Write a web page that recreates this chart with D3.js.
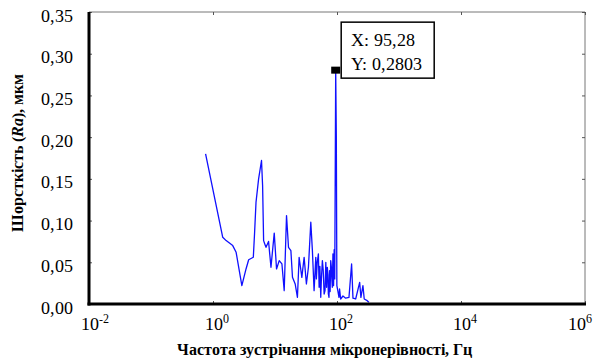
<!DOCTYPE html>
<html>
<head>
<meta charset="utf-8">
<script src="https://cdn.jsdelivr.net/npm/d3@7"></script>
<style>
  @font-face { font-family: "ChartSerif"; src: local("Liberation Serif"), local("LiberationSerif"); font-weight: normal; font-style: normal; }
  @font-face { font-family: "ChartSerif"; src: local("Liberation Serif Bold"), local("LiberationSerif-Bold"); font-weight: bold; font-style: normal; }
  @font-face { font-family: "ChartSerif"; src: local("Liberation Serif Bold Italic"), local("LiberationSerif-BoldItalic"); font-weight: bold; font-style: italic; }
  html, body { margin: 0; padding: 0; background: #fff; }
  svg { display: block; }
</style>
</head>
<body>
<svg id="chart" width="593" height="359"></svg>
<script>
// Roughness spectrum: frequency of micro-irregularities (Hz) vs Ra (µm)
const freqHz = [
  0.759, 1.436, 1.629, 2.08, 2.36, 2.92, 3.41, 3.76, 4.47, 4.69, 4.94, 5.44,
  6.06, 6.31, 6.55, 6.84, 7.16, 7.87, 8.61, 9.72, 10.59, 11.70, 12.93, 14.08,
  15.34, 16.51, 18.04, 19.14, 21.15, 23.0, 24.5, 27.1, 29.5, 32.1, 34.6, 37.8,
  40.1, 42.7, 45.5, 46.5, 48, 50.1, 51.5, 53, 54.7, 56, 58.1, 60, 62, 64.1,
  66, 68, 69.8, 71.5, 72.5, 74.3, 76, 77.5, 79.2, 81, 82.5, 84.0, 86, 88, 90,
  92, 95.28, 97.5, 99.5, 103, 107.7, 110, 114.6, 124.8, 138, 156, 172, 181,
  200, 232, 243, 262, 275, 307, 327
];
const raMicron = [
  0.180, 0.080, 0.076, 0.070, 0.062, 0.022, 0.042, 0.053, 0.056, 0.086, 0.122, 0.150,
  0.172, 0.142, 0.076, 0.072, 0.068, 0.075, 0.044, 0.085, 0.042, 0.052, 0.048, 0.016,
  0.106, 0.068, 0.064, 0.032, 0.024, 0.008, 0.056, 0.032, 0.056, 0.024, 0.044, 0.098,
  0.064, 0.016, 0.056, 0.030, 0.050, 0.060, 0.020, 0.045, 0.008, 0.030, 0.052, 0.040, 0.012, 0.016,
  0.050, 0.020, 0.044, 0.035, 0.012, 0.008, 0.040, 0.015, 0.052, 0.045, 0.030, 0.020, 0.060, 0.022, 0.065,
  0.030, 0.2803, 0.202, 0.022, 0.016, 0.008, 0.018, 0.006, 0.0096, 0.007, 0.008, 0.048, 0.007,
  0.006, 0.026, 0.008, 0.022, 0.006, 0.004, 0.002
];
const xTickExp = [-2, 0, 2, 4, 6];
const yTicks = [0, 0.05, 0.10, 0.15, 0.20, 0.25, 0.30, 0.35];
const cursor = { x: 95.28, y: 0.2803 };

const FACE = "ChartSerif, 'Liberation Serif', 'Times New Roman', serif";
const svg = d3.select("#chart");
const m = { left: 89, right: 585, top: 12, bottom: 304 };

const x = d3.scaleLog().domain([1e-2, 1e6]).range([m.left, m.right]);
const y = d3.scaleLinear().domain([0, 0.35]).range([m.bottom, m.top]);

const comma = v => d3.format(".2f")(v).replace(".", ",");
const tickVals = xTickExp.map(e => Math.pow(10, e));

// serif face set on the element itself
const serif = (sel, size, bold) => sel
  .attr("font-family", FACE)
  .attr("font-size", size)
  .attr("font-weight", bold ? "bold" : null)
  .style("font-family", FACE);

// strip the default sans-serif that d3.axis puts on its group
const plainAxis = g => g.attr("font-family", null).attr("font-size", null);

// thin grey top and right frame with inward ticks
svg.append("line").attr("x1", m.left).attr("x2", m.right).attr("y1", m.top).attr("y2", m.top)
  .attr("stroke", "#777").attr("stroke-width", 1);
svg.append("line").attr("x1", m.right).attr("x2", m.right).attr("y1", m.top).attr("y2", m.bottom)
  .attr("stroke", "#777").attr("stroke-width", 1);

const topAxis = svg.append("g").attr("transform", `translate(0,${m.top})`)
  .call(d3.axisTop(x).tickValues(tickVals).tickSize(-3).tickFormat("")).call(plainAxis);
topAxis.select(".domain").remove();
topAxis.selectAll(".tick line").attr("stroke", "#555");

const rightAxis = svg.append("g").attr("transform", `translate(${m.right},0)`)
  .call(d3.axisRight(y).tickValues(yTicks).tickSize(-3).tickFormat("")).call(plainAxis);
rightAxis.select(".domain").remove();
rightAxis.selectAll(".tick line").attr("stroke", "#555");

// left axis: labels with decimal comma
const leftAxis = svg.append("g").attr("transform", `translate(${m.left},0)`)
  .call(d3.axisLeft(y).tickValues(yTicks).tickSize(-3).tickPadding(16).tickFormat(comma))
  .call(plainAxis);
leftAxis.select(".domain").remove();
leftAxis.selectAll(".tick line").attr("stroke", "#555");
serif(leftAxis.selectAll(".tick text").attr("dy", "0.5em").attr("fill", "#000"), 18);

// bottom axis: powers of ten
const bottomAxis = svg.append("g").attr("transform", `translate(0,${m.bottom})`)
  .call(d3.axisBottom(x).tickValues(tickVals).tickSize(-3).tickFormat("")).call(plainAxis);
bottomAxis.select(".domain").remove();
bottomAxis.selectAll(".tick line").attr("stroke", "#555");
bottomAxis.selectAll(".tick").each(function(d, i, nodes) {
  const last = i === nodes.length - 1;
  const t = serif(d3.select(this).append("text"), 18)
    .attr("y", 26).attr("fill", "#000")
    .attr("x", last ? 6 : -9)
    .attr("text-anchor", last ? "end" : "start");
  t.append("tspan").text("10");
  serif(t.append("tspan"), 12).attr("dy", "-0.55em")
    .text(String(Math.round(Math.log10(d))));
});

// data line
const pts = freqHz.map((f, i) => [f, raMicron[i]]);
svg.append("path")
  .datum(pts)
  .attr("fill", "none")
  .attr("stroke", "#1010ff")
  .attr("stroke-width", 1.3)
  .attr("stroke-linejoin", "round")
  .attr("d", d3.line().x(d => x(d[0])).y(d => y(d[1])));

// heavy left and bottom axis lines
svg.append("line").attr("x1", m.left).attr("x2", m.left).attr("y1", m.top).attr("y2", m.bottom + 1.5)
  .attr("stroke", "#000").attr("stroke-width", 3);
svg.append("line").attr("x1", m.left - 1.5).attr("x2", m.right + 1).attr("y1", m.bottom).attr("y2", m.bottom)
  .attr("stroke", "#000").attr("stroke-width", 3);

// data cursor
const cx = x(cursor.x), cy = y(cursor.y);
svg.append("rect").attr("x", cx - 4.5).attr("y", cy - 3.5).attr("width", 9).attr("height", 7).attr("fill", "#000");
const tip = svg.append("g").attr("transform", `translate(${cx + 5.5},${cy - 48})`);
tip.append("rect").attr("x", 0).attr("y", 0).attr("width", 93).attr("height", 56)
  .attr("fill", "#fff").attr("stroke", "#000").attr("stroke-width", 1.5);
serif(tip.append("text"), 18).attr("x", 10).attr("y", 24)
  .text("X: " + String(cursor.x).replace(".", ","));
serif(tip.append("text"), 18).attr("x", 10).attr("y", 48)
  .text("Y: " + String(cursor.y).replace(".", ","));

// axis titles
serif(svg.append("text"), 16, true)
  .attr("x", 324).attr("y", 355).attr("text-anchor", "middle")
  .text("Частота зустрічання мікронерівності, Гц");

const yt = serif(svg.append("text"), 16, true)
  .attr("transform", "translate(23,153) rotate(-90)")
  .attr("text-anchor", "middle");
yt.append("tspan").text("Шорсткість (");
yt.append("tspan").attr("font-style", "italic").text("Ra");
yt.append("tspan").text("), мкм");
</script>
</body>
</html>
